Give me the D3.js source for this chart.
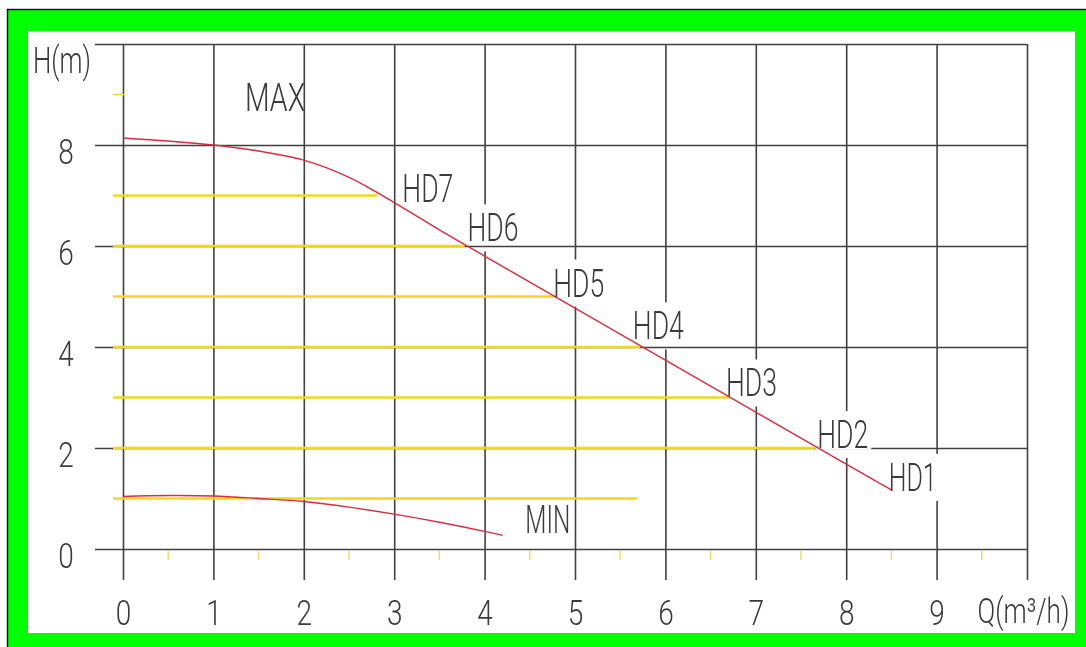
<!DOCTYPE html>
<html>
<head>
<meta charset="utf-8">
<script src="https://cdn.jsdelivr.net/npm/d3@7"></script>
<style>
  html, body { margin: 0; padding: 0; background: #ffffff; }
  svg { display: block; }
  text { font-family: Roboto, "Liberation Sans Narrow", "DejaVu Sans Condensed", sans-serif; font-weight: 300; fill: #3a3a3a; }
</style>
</head>
<body>
<svg id="chart" width="1086" height="647"></svg>
<script>
// ---------- data ----------
const X_TICKS = [0, 1, 2, 3, 4, 5, 6, 7, 8, 9, 10];
const X_TICK_LABELS = ["0", "1", "2", "3", "4", "5", "6", "7", "8", "9", "Q(m³/h)"];
const X_MINOR = [0.5, 1.5, 2.5, 3.5, 4.5, 5.5, 6.5, 7.5, 8.5, 9.5];
const Y_TICKS = [0, 2, 4, 6, 8, 10];
const Y_TICK_LABELS = ["0", "2", "4", "6", "8", "H(m)"];
const Y_MINOR = [9];

// MAX pump curve (Q m3/h, H m)
const Q_MAX = [0, 0.5, 1, 1.5, 2, 2.5, 3, 3.5, 4, 5, 6, 7, 8, 8.5];
const H_MAX = [8.14, 8.08, 8.0, 7.88, 7.70, 7.36, 6.86, 6.32, 5.80, 4.77, 3.74, 2.71, 1.68, 1.17];
// MIN pump curve
const Q_MIN = [0, 0.5, 1, 1.5, 2, 2.5, 3, 3.5, 4, 4.2];
const H_MIN = [1.04, 1.06, 1.05, 1.0, 0.94, 0.83, 0.69, 0.53, 0.35, 0.27];

// speed steps (yellow lines): head level and Q where the line ends
const LEVEL_H = [7, 6, 5, 4, 3, 2, 1];
const LEVEL_Q_END = [2.81, 3.78, 4.78, 5.72, 6.71, 7.65, 5.69];
const LEVEL_Q_START = -0.11;

// curve labels (anchored bottom-left at Q,H)
const STEP_NAMES = ["HD7", "HD6", "HD5", "HD4", "HD3", "HD2", "HD1"];
const STEP_Q = [3.09, 3.81, 4.76, 5.64, 6.67, 7.68, 8.47];
const STEP_H = [6.87, 6.09, 5.0, 4.15, 3.02, 2.0, 1.15];
const CURVE_NAMES = ["MAX", "MIN"];
const CURVE_Q = [1.35, 4.45];
const CURVE_H = [8.67, 0.31];

// ---------- layout ----------
const W = 1086, H = 647;
const svg = d3.select("#chart");
const x = d3.scaleLinear().domain([0, 10]).range([123, 1027]);
const y = d3.scaleLinear().domain([0, 10]).range([549, 44]);

// frame
svg.append("rect").attr("x", 7.5).attr("y", 9.5).attr("width", W).attr("height", H)
  .attr("fill", "#00ff00").attr("stroke", "#000").attr("stroke-width", 1.4);
svg.append("rect").attr("x", 28).attr("y", 31).attr("width", 1075 - 28).attr("height", 633 - 31)
  .attr("fill", "#ffffff");

const defs = svg.append("defs");
const LABEL_SIZE = 38, CAP = 27;
const widthOf = s => s.length === 3 ? (s[2] === "1" ? 48 : 51) : 50;

// label boxes for line gaps
const boxes = STEP_NAMES.map((s, i) => {
  const left = x(STEP_Q[i]), base = y(STEP_H[i]);
  return { left, base, w: widthOf(s) };
});

const vMask = defs.append("mask").attr("id", "vmask").attr("maskUnits", "userSpaceOnUse")
  .attr("x", 0).attr("y", 0).attr("width", W).attr("height", H);
vMask.append("rect").attr("x", 0).attr("y", 0).attr("width", W).attr("height", H).attr("fill", "#fff");
vMask.selectAll("rect.gap").data(boxes).join("rect").attr("class", "gap")
  .attr("x", d => d.left - 3).attr("y", d => d.base - CAP - 10)
  .attr("width", d => d.w + 6).attr("height", CAP + 20).attr("fill", "#000");

const hMask = defs.append("mask").attr("id", "hmask").attr("maskUnits", "userSpaceOnUse")
  .attr("x", 0).attr("y", 0).attr("width", W).attr("height", H);
hMask.append("rect").attr("x", 0).attr("y", 0).attr("width", W).attr("height", H).attr("fill", "#fff");
hMask.selectAll("rect.gap").data(boxes).join("rect").attr("class", "gap")
  .attr("x", d => d.left - 2).attr("y", d => d.base - CAP)
  .attr("width", d => d.w + 5).attr("height", CAP + 1.6).attr("fill", "#000");

const GRID = "#404040", GRID_W = 1.6;

// vertical grid lines (from axis)
const gv = svg.append("g").attr("mask", "url(#vmask)").append("g").attr("transform", "translate(0,580)")
  .call(d3.axisBottom(x).tickValues(X_TICKS).tickSize(-(580 - 44)).tickFormat(""));
gv.select(".domain").remove();
gv.selectAll(".tick line").attr("stroke", GRID).attr("stroke-width", GRID_W);

// horizontal grid lines
const gh = svg.append("g").attr("mask", "url(#hmask)").append("g").attr("transform", "translate(1027,0)")
  .call(d3.axisLeft(y).tickValues(Y_TICKS).tickSize(1027 - 95).tickFormat(""));
gh.select(".domain").remove();
gh.selectAll(".tick line").attr("stroke", GRID).attr("stroke-width", GRID_W);

// yellow minor ticks on x axis
svg.append("g").selectAll("line").data(X_MINOR).join("line")
  .attr("x1", d => x(d)).attr("x2", d => x(d))
  .attr("y1", y(0) + 2).attr("y2", y(0) + 11)
  .attr("stroke", "#f0dc55").attr("stroke-width", 1.4);
// yellow minor tick on y axis
svg.append("g").selectAll("line").data(Y_MINOR).join("line")
  .attr("x1", x(LEVEL_Q_START)).attr("x2", x(0) + 2)
  .attr("y1", d => y(d)).attr("y2", d => y(d))
  .attr("stroke", "#f0d530").attr("stroke-width", 1.5);

// yellow step lines
svg.append("g").selectAll("line").data(LEVEL_H).join("line")
  .attr("x1", x(LEVEL_Q_START)).attr("x2", (d, i) => x(LEVEL_Q_END[i]))
  .attr("y1", d => y(d)).attr("y2", d => y(d))
  .attr("stroke", "#f3d71a").attr("stroke-width", 2.6);

// curves
const line = d3.line().x(d => x(d[0])).y(d => y(d[1])).curve(d3.curveCatmullRom.alpha(0.5));
svg.append("path").datum(Q_MAX.map((q, i) => [q, H_MAX[i]]))
  .attr("d", line).attr("fill", "none").attr("stroke", "#d92d3d").attr("stroke-width", 1.4);
svg.append("path").datum(Q_MIN.map((q, i) => [q, H_MIN[i]]))
  .attr("d", line).attr("fill", "none").attr("stroke", "#d92d3d").attr("stroke-width", 1.4);

// x tick labels (axis)
const xl = svg.append("g").attr("transform", "translate(0,580)")
  .call(d3.axisBottom(x).tickValues(X_TICKS).tickSize(0).tickFormat((d, i) => X_TICK_LABELS[i]));
xl.select(".domain").remove();
xl.selectAll(".tick text").each(function (d, i) {
  const t = d3.select(this).attr("y", null).attr("dy", null)
    .style("font-size", "35px").attr("font-family", null).attr("fill", d === 1 ? "#9a9a9a" : "#3a3a3a");
  if (X_TICK_LABELS[i].length > 1) {
    t.attr("text-anchor", "middle").attr("x", 0);
    const natural = this.getComputedTextLength();
    const sx = 92 / natural;
    t.attr("transform", `translate(-4,43) scale(${sx},1)`);
  } else {
    t.attr("text-anchor", "middle").attr("transform", "translate(0,45) scale(0.8,1)");
  }
});

// y tick labels (axis)
const yl = svg.append("g").attr("transform", "translate(66,0)")
  .call(d3.axisLeft(y).tickValues(Y_TICKS).tickSize(0).tickFormat((d, i) => Y_TICK_LABELS[i]));
yl.select(".domain").remove();
yl.selectAll(".tick text").each(function (d, i) {
  const t = d3.select(this).attr("x", null).attr("dy", null)
    .style("font-size", "35px").attr("font-family", null).attr("fill", "#3a3a3a");
  if (Y_TICK_LABELS[i].length > 1) {
    t.attr("text-anchor", "start").attr("x", -33).attr("y", 28).style("font-size", "37px")
      .attr("textLength", 58).attr("lengthAdjust", "spacingAndGlyphs").attr("fill", "#555");
  } else {
    t.attr("text-anchor", "middle").attr("transform", "translate(0,18) scale(0.8,1)");
  }
});

// step labels
svg.append("g").selectAll("text").data(STEP_NAMES).join("text")
  .attr("x", (d, i) => x(STEP_Q[i])).attr("y", (d, i) => y(STEP_H[i]))
  .style("font-size", LABEL_SIZE + "px")
  .attr("textLength", d => widthOf(d)).attr("lengthAdjust", "spacingAndGlyphs")
  .text(d => d);

// curve labels
const CURVE_W = [60, 45];
svg.append("g").selectAll("text").data(CURVE_NAMES).join("text")
  .attr("x", (d, i) => x(CURVE_Q[i])).attr("y", (d, i) => y(CURVE_H[i]))
  .style("font-size", LABEL_SIZE + "px")
  .attr("textLength", (d, i) => CURVE_W[i]).attr("lengthAdjust", "spacingAndGlyphs")
  .text(d => d);
</script>
</body>
</html>
